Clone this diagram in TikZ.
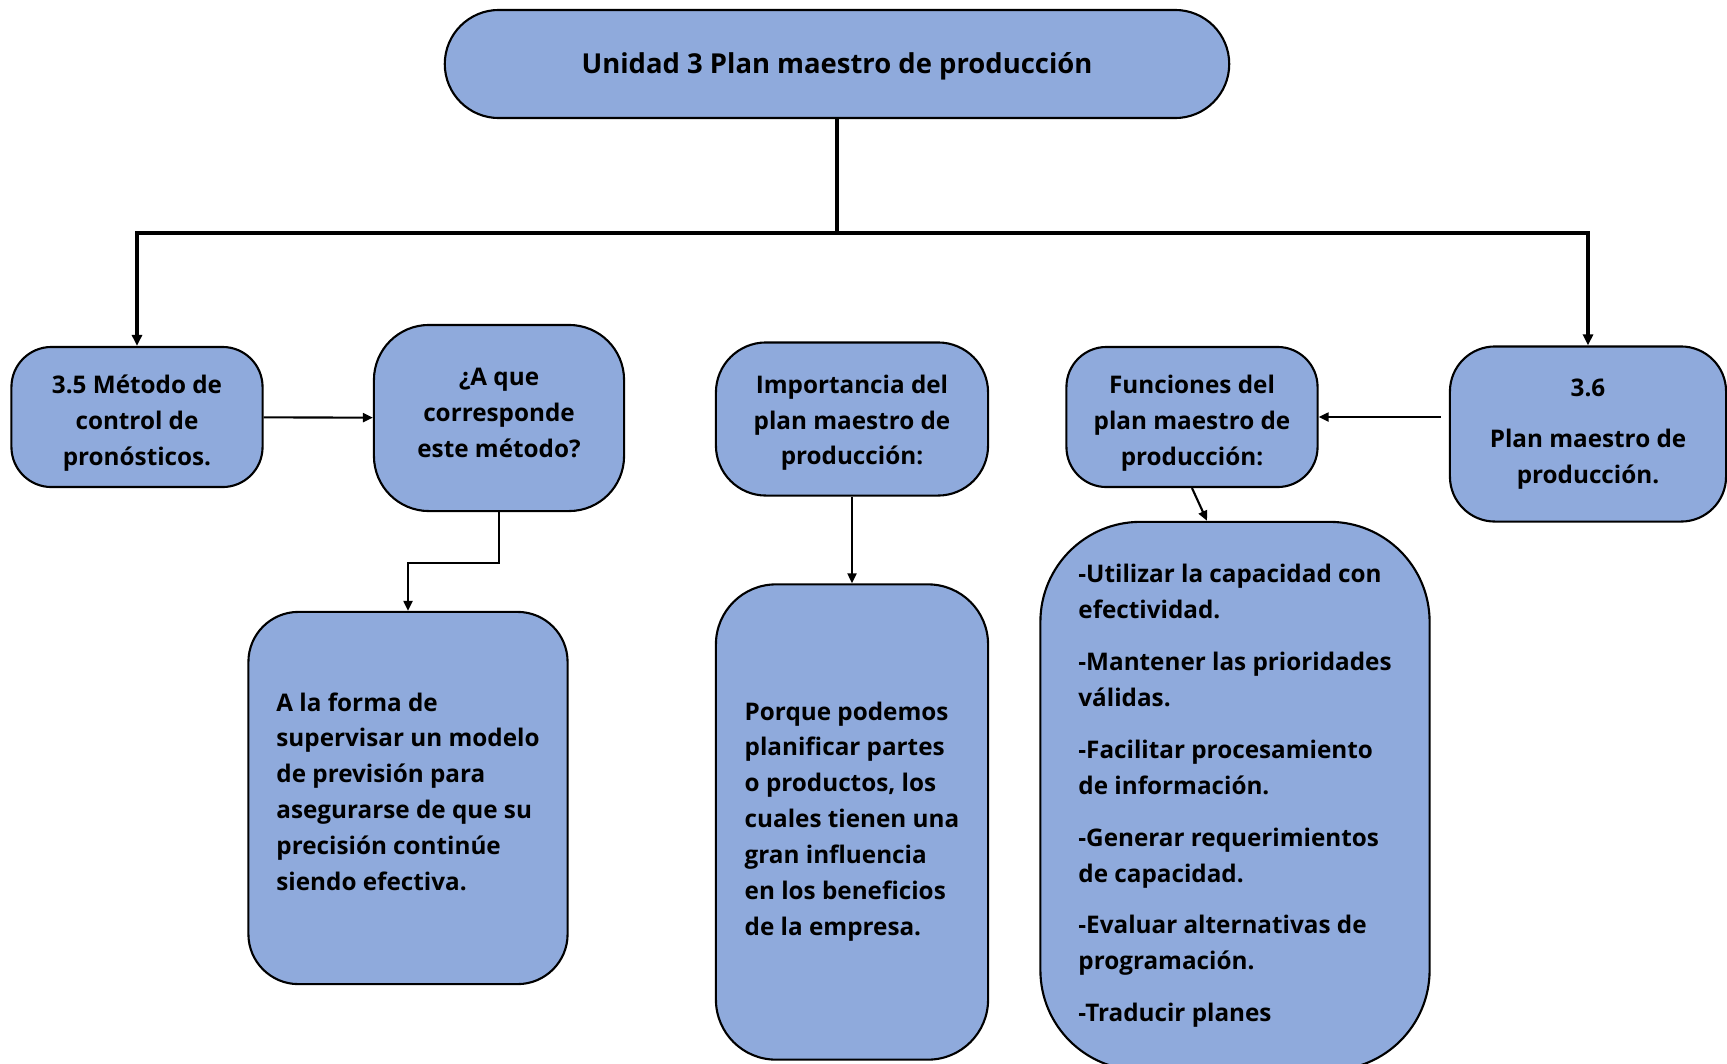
\documentclass[tikz,border=0pt]{standalone}
\usepackage{fontspec}
\setmainfont{Open Sans}
\usepackage{tikz}
\usetikzlibrary{arrows.meta}
\definecolor{azulcaja}{RGB}{143,170,220}

\begin{document}
\begin{tikzpicture}[x=0.01cm, y=-0.01cm,
		caja/.style={draw, fill=azulcaja, line width=0.6pt, inner sep=0pt,
			font=\bfseries\fontsize{6.9}{10.2}\selectfont},
		centro/.style={caja, align=center},
		lista/.style={caja, align=left},
		arbol/.style={line width=1pt},
		flecha/.style={line width=0.6pt, -{Triangle[length=1mm,width=0.9mm]}}]
		
		\useasboundingbox (0,0) rectangle (1727,1063);
		
		% titulo
		\node [centro, rounded corners=0.54cm, minimum width=7.84cm, minimum height=1.08cm,
			font=\bfseries\fontsize{7.8}{10.2}\selectfont] (unidad) at (837,64)
			{\rule{0pt}{0.25cm}Unidad 3 Plan maestro de producción};
		
		% fila 1
		\node [centro, rounded corners=0.4cm, minimum width=2.51cm, minimum height=1.4cm] (metodo) at (137,417)
			{\rule{0pt}{0.31cm}3.5 Método de\\control de\\pronósticos.};
		\node [centro, rounded corners=0.55cm, minimum width=2.5cm, minimum height=1.86cm] (pregunta) at (499,418)
			{¿A que\\corresponde\\este método?\rule[-0.11cm]{0pt}{0.11cm}};
		\node [centro, rounded corners=0.5cm, minimum width=2.72cm, minimum height=1.53cm] (importancia) at (852,419)
			{\rule{0pt}{0.26cm}Importancia del\\plan maestro de\\producción:};
		\node [centro, rounded corners=0.4cm, minimum width=2.51cm, minimum height=1.4cm] (funciones) at (1192,417)
			{\rule{0pt}{0.31cm}Funciones del\\plan maestro de\\producción:};
		\node [centro, rounded corners=0.45cm, minimum width=2.76cm, minimum height=1.75cm] (plan) at (1588,434)
			{3.6\\[0.15cm]Plan maestro de\\producción.};
		
		% fila 2
		\node [lista, rounded corners=0.5cm, minimum width=3.19cm, minimum height=3.72cm] (forma) at (408,798)
			{A la forma de\\supervisar un modelo\\de previsión para\\asegurarse de que su\\precisión continúe\\siendo efectiva.\rule[-0.13cm]{0pt}{0.13cm}};
		\node [lista, rounded corners=0.6cm, minimum width=2.72cm, minimum height=4.75cm] (porque) at (852,822)
			{Porque podemos\\planificar partes\\o productos, los\\cuales tienen una\\gran influencia\\en los beneficios\\de la empresa.\rule[-0.07cm]{0pt}{0.07cm}};
		\node [lista, rounded corners=1cm, minimum width=3.89cm, minimum height=5.48cm] (tareas) at (1235,796)
			{-Utilizar la capacidad con\\efectividad.\\[0.16cm]
			-Mantener las prioridades\\válidas.\\[0.16cm]
			-Facilitar procesamiento\\de información.\\[0.16cm]
			-Generar requerimientos\\de capacidad.\\[0.16cm]
			-Evaluar alternativas de\\programación.\\[0.16cm]
			-Traducir planes};
		
		% arbol
		\draw [arbol] (unidad.south) -- ++(0,114) coordinate (rama);
		\draw [arbol, -{Triangle[length=1.1mm,width=1mm]}] (rama) -| (metodo.north);
		\draw [arbol, -{Triangle[length=1.1mm,width=1mm]}] (rama) -| (plan.north);
		
		% flechas
		\draw [flecha] (metodo) -- (pregunta);
		\draw [flecha] (pregunta.south) -- ++(0,51) -| (forma.north);
		\draw [flecha] (importancia) -- (porque);
		\draw [flecha, shorten <=0.08cm] (funciones.east -| plan.west) -- (funciones.east);
		\draw [flecha] (funciones.south) -- ([xshift=-0.28cm]tareas.north);
		
	\end{tikzpicture}
\end{document}
